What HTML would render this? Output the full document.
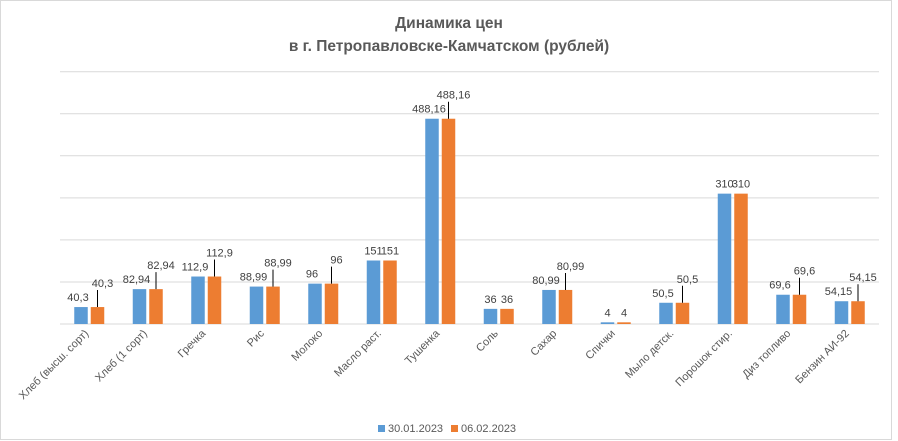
<!DOCTYPE html>
<html><head><meta charset="utf-8"><style>
html,body{margin:0;padding:0;background:#fff}
svg{display:block;font-family:"Liberation Sans","DejaVu Sans",sans-serif}
</style></head><body>
<svg id="chart" width="898" height="441" viewBox="0 0 898 441">
<rect x="0.5" y="0.5" width="891" height="439" fill="#fff" stroke="#d9d9d9"/>
<text x="449" y="28" text-anchor="middle" font-size="15.5" font-weight="bold" fill="#595959">Динамика цен</text>
<text x="449" y="51" text-anchor="middle" font-size="15.5" font-weight="bold" fill="#595959">в г. Петропавловске-Камчатском (рублей)</text>
<g id="grid"></g><g id="bars"></g><g id="labels"></g><g id="xlabels"></g>
<g>
<rect x="378" y="425" width="7" height="7" fill="#5b9bd5"/>
<text x="388" y="432" font-size="11" fill="#595959">30.01.2023</text>
<rect x="451" y="425" width="7" height="7" fill="#ed7d31"/>
<text x="461" y="432" font-size="11" fill="#595959">06.02.2023</text>
</g>
</svg>
<script>
const categories=["Хлеб (высш. сорт)","Хлеб (1 сорт)","Гречка","Рис","Молоко","Масло раст.","Тушенка","Соль","Сахар","Спички","Мыло детск.","Порошок стир.","Диз топливо","Бензин АИ-92"];
const series1=[40.3,82.94,112.9,88.99,96,151,488.16,36,80.99,4,50.5,310,69.6,54.15];
const series2=[40.3,82.94,112.9,88.99,96,151,488.16,36,80.99,4,50.5,310,69.6,54.15];
const labels1=["40,3","82,94","112,9","88,99","96","151","488,16","36","80,99","4","50,5","310","69,6","54,15"];
const labels2=["40,3","82,94","112,9","88,99","96","151","488,16","36","80,99","4","50,5","310","69,6","54,15"];
const leader=[1,1,1,1,1,0,1,0,1,0,1,0,1,1];
const yTicks=[0,100,200,300,400,500,600];
const NS="http://www.w3.org/2000/svg";
const X0=60,X1=879,Y0=324,YMAX=600,PH=252.3;
const band=(X1-X0)/categories.length;
const y=v=>Y0-v/YMAX*PH;
const cx=i=>X0+band*(i+0.5);
function mk(tag,attrs,parent){const e=document.createElementNS(NS,tag);for(const k in attrs)e.setAttribute(k,attrs[k]);document.getElementById(parent).appendChild(e);return e;}
yTicks.forEach(t=>{
 const l=mk("line",{x1:X0,x2:X1,y1:y(t),y2:y(t),stroke:"#d9d9d9","stroke-width":1},"grid");
 
 
});
categories.forEach((c,i)=>{
 const bw=13.5,g=3;
 const b1=mk("rect",{x:cx(i)-g/2-bw,y:y(series1[i]),width:bw,height:Y0-y(series1[i]),fill:"#5b9bd5"},"bars");
 
 
 const b2=mk("rect",{x:cx(i)+g/2,y:y(series2[i]),width:bw,height:Y0-y(series2[i]),fill:"#ed7d31"},"bars");
 
 
 const x1=cx(i)-g/2-bw/2,x2=cx(i)+g/2+bw/2;
 let ly1=y(series1[i])-6,ly2=ly1;
 if(leader[i]){ly2=ly1-14;}
 const t1=mk("text",{x:x1-(leader[i]?3:0),y:ly1,"text-anchor":"middle","font-size":11,fill:"#404040"},"labels");
 t1.textContent=labels1[i];
 
 
 const t2=mk("text",{x:x2+(leader[i]?5:0),y:ly2,"text-anchor":"middle","font-size":11,fill:"#404040"},"labels");
 t2.textContent=labels2[i];
 
 
 if(leader[i]){
  const ln=mk("line",{x1:x2,x2:x2,y1:ly2+3,y2:y(series2[i]),stroke:"#000","stroke-width":1},"labels");
  
  
 }
 const xl=mk("text",{x:cx(i),y:334,"text-anchor":"end","font-size":11,fill:"#595959",transform:`rotate(-45 ${cx(i)} 334)`},"xlabels");
 xl.textContent=c;
 
 
});
</script>
</body></html>
